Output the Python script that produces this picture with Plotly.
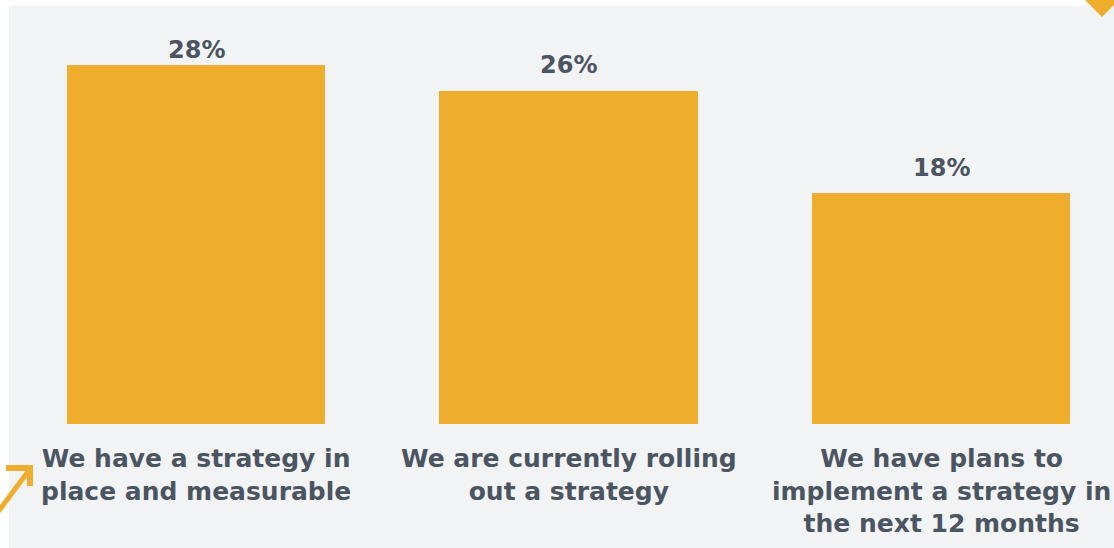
import plotly.graph_objects as go

categories = [
    "We have a strategy in<br>place and measurable",
    "We are currently rolling<br>out a strategy",
    "We have plans to<br>implement a strategy in<br>the next 12 months",
]
values = [28, 26, 18]
value_labels = ["28%", "26%", "18%"]

BAR = "#EEAD2C"
TEXT = "#4B5562"
PANEL = "#F2F3F5"
FONT = "DejaVu Sans, Verdana, sans-serif"

W, H = 1114, 548
L, R, T, B = 9, 0, 6, 124
plot_w = W - L - R
plot_h = H - T - B

# vertical nudge of each value label above its bar (px); the tallest one
# sits tighter because it is close to the top edge
label_lift = [-1, 10, 9]


def px(x):
    return (x - L) / plot_w


def py(y):
    return (H - B - y) / plot_h


fig = go.Figure()
fig.add_trace(go.Bar(
    x=list(range(len(values))),
    y=values,
    marker=dict(color=BAR, line=dict(width=0)),
    width=0.693,
    hoverinfo="skip",
))

annotations = []
for i, (v, lab) in enumerate(zip(values, value_labels)):
    annotations.append(dict(
        x=i, y=v, text=f"<b>{lab}</b>", showarrow=False,
        xref="x", yref="y", yanchor="bottom", yshift=label_lift[i],
        font=dict(family=FONT, size=24, color=TEXT),
    ))
for i, cat in enumerate(categories):
    annotations.append(dict(
        x=i, y=0, text=f"<b>{cat}</b>", showarrow=False,
        xref="x", yref="y", yanchor="top", yshift=-18,
        align="center",
        font=dict(family=FONT, size=25, color=TEXT),
    ))

shapes = [
    # light panel behind the chart
    dict(type="rect", xref="paper", yref="paper",
         x0=0, x1=1, y0=py(H), y1=1,
         fillcolor=PANEL, line=dict(width=0), layer="below"),
    # corner chevron, top right
    dict(type="path", xref="paper", yref="paper",
         path=f"M {px(1085)} {py(0)} L {px(1102)} {py(17)} L {px(1119)} {py(0)} Z",
         fillcolor=BAR, line=dict(width=0)),
    # arrow, bottom left
    dict(type="path", xref="paper", yref="paper",
         path=f"M {px(-2)} {py(512)} L {px(30)} {py(469)}",
         line=dict(color=BAR, width=5)),
    dict(type="path", xref="paper", yref="paper",
         path=f"M {px(6)} {py(468)} L {px(30)} {py(468)} L {px(30)} {py(486)}",
         line=dict(color=BAR, width=6)),
]

fig.update_layout(
    width=W, height=H,
    margin=dict(l=L, r=R, t=T, b=B),
    paper_bgcolor="white",
    plot_bgcolor=PANEL,
    showlegend=False,
    bargap=0,
    xaxis=dict(range=[-0.502, 2.464], showticklabels=False, showgrid=False,
               zeroline=False, showline=False, fixedrange=True),
    yaxis=dict(range=[0, plot_h / 12.82], showticklabels=False, showgrid=False,
               zeroline=False, showline=False, fixedrange=True),
    annotations=annotations,
    shapes=shapes,
)

fig.write_html("out.html", config={"displayModeBar": False})
